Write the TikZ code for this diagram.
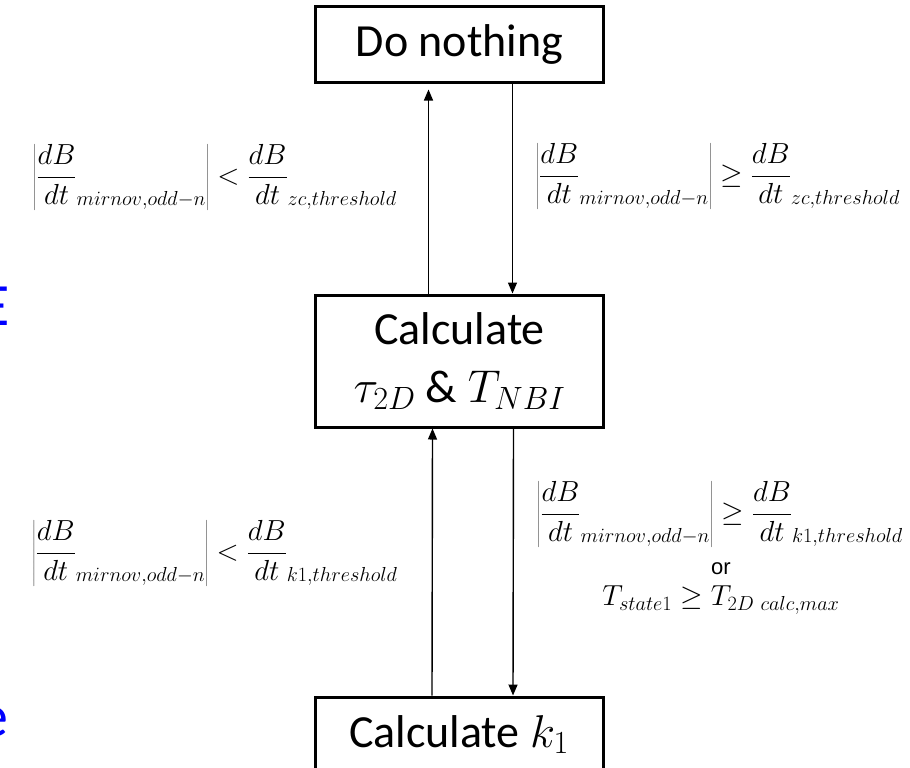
\RequirePackage{fix-cm}
\documentclass[tikz,border=0pt]{standalone}
\usepackage{fontspec}
\setmainfont{Carlito}
\newfontfamily\arialfont{Liberation Sans}
\definecolor{ddblue}{RGB}{0,0,255}
\usetikzlibrary{arrows.meta,positioning,calc}

\begin{document}
\begin{tikzpicture}[x=1pt, y=-1pt,
  box/.style={draw, line width=3pt, minimum width=288pt, inner sep=0pt, align=center, font=\fontsize{46}{58}\selectfont},
  flow/.style={line width=1.4pt, -{Triangle[length=11pt,width=9pt]}},
  cond/.style={inner sep=0pt, align=center, font=\fontsize{29}{32}\selectfont},
  stub/.style={inner sep=0pt, anchor=east, text=ddblue, font=\fontsize{60}{62}\selectfont}
]
  \useasboundingbox (0,0) rectangle (910,768);
  \clip (0,0) rectangle (910,768);

  %% States
  \node[box, minimum height=75pt] (donothing) at (459.5,44.5) {Do nothing};
  \node[box, minimum height=132pt] (calctau) at (459.5,361) {Calculate\\$\tau_{2D}$ \& $T_{NBI}$};
  \node[box, minimum height=75pt] (calck) at (459,734.5) {Calculate $k_1$};

  %% Transitions
  \draw[flow, shorten >=6pt] ([xshift=-31pt]calctau.north) -- ([xshift=-31pt]donothing.south);
  \draw[flow] ([xshift=53pt]donothing.south) -- ([xshift=53pt]calctau.north);
  \draw[flow] ([xshift=-27pt]calck.north) -- ([xshift=-27pt]calctau.south);
  \draw[flow] ([xshift=54pt]calctau.south) -- ([xshift=54pt]calck.north);

  %% Conditions
  \node[cond] (zcbelow) at (215,177) {$\displaystyle\left|\frac{dB}{dt}_{mirnov,odd-n}\right| < \frac{dB}{dt}_{zc,threshold}$};
  \node[cond] (zcabove) at (718,176) {$\displaystyle\left|\frac{dB}{dt}_{mirnov,odd-n}\right| \geq \frac{dB}{dt}_{zc,threshold}$};
  \node[cond] (kbelow) at (215,553) {$\displaystyle\left|\frac{dB}{dt}_{mirnov,odd-n}\right| < \frac{dB}{dt}_{k1,threshold}$};
  \node[cond] (kabove) at (720,514) {$\displaystyle\left|\frac{dB}{dt}_{mirnov,odd-n}\right| \geq \frac{dB}{dt}_{k1,threshold}$};
  \node[cond, font=\arialfont\fontsize{22}{24}\selectfont] (kor) at (721,569) {or};
  \node[cond, font=\fontsize{29}{32}\selectfont] (ktime) at (721,600) {$T_{state1} \geq T_{2D\ calc,max}$};

  %% Cut-off text at the left edge
  \node[stub] (stubE) at (10,306) {E};
  \node[stub] (stube) at (9,722) {e};
\end{tikzpicture}
\end{document}
